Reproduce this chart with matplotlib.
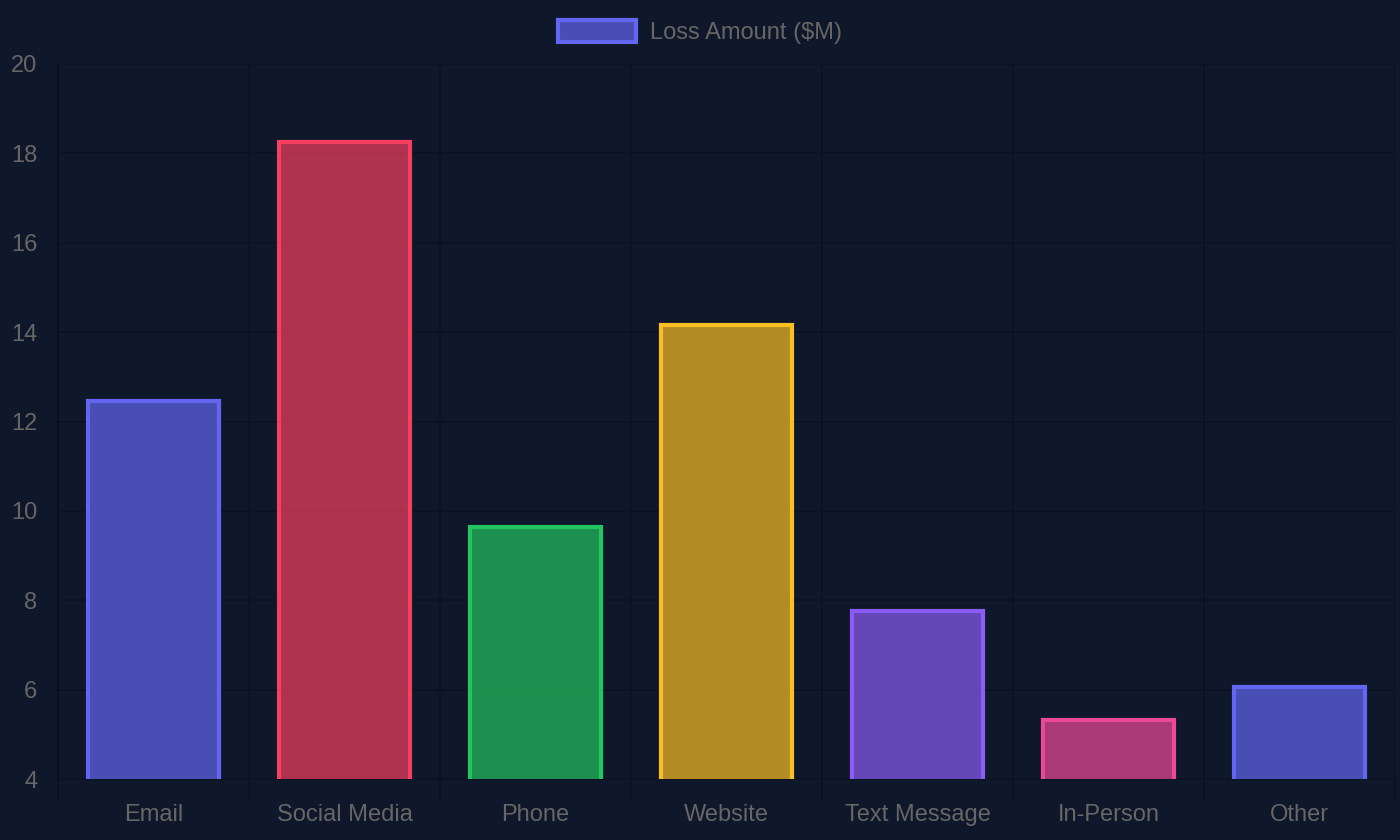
import matplotlib.pyplot as plt
from matplotlib.patches import Patch
from matplotlib.colors import to_rgba

categories = ["Email", "Social Media", "Phone", "Website", "Text Message", "In-Person", "Other"]
losses = [12.45, 18.25, 9.65, 14.15, 7.75, 5.33, 6.05]
border_colors = ["#6366f1", "#f43f5e", "#22c55e", "#fbbf24", "#8b5cf6", "#ec4899", "#6366f1"]
y_ticks = [4, 6, 8, 10, 12, 14, 16, 18, 20]

bg = "#0f172a"
grid_col = "#0b1322"
text_col = "#666666"

plt.rcParams["font.family"] = ["Liberation Sans", "DejaVu Sans"]

fig = plt.figure(figsize=(14, 8.4), dpi=100, facecolor=bg)
ax = fig.add_axes([58 / 1400, 61 / 840, 1337 / 1400, 715 / 840], facecolor=bg)

fills = [to_rgba(c, 0.7) for c in border_colors]
x = list(range(len(categories)))
ax.bar(x, losses, width=0.69, color=fills, edgecolor=border_colors, linewidth=3, zorder=3)

ax.set_xlim(-0.5, len(categories) - 0.5)
ax.set_ylim(4, 20)
ax.set_yticks(y_ticks)
ax.set_xticks(x)
ax.set_xticklabels(categories)
ax.set_xticks([i - 0.5 for i in range(len(categories) + 1)], minor=True)

ax.grid(True, which="major", axis="y", color=grid_col, linewidth=1.2, zorder=0)
ax.grid(True, which="minor", axis="x", color=grid_col, linewidth=1.2, zorder=0)

ax.tick_params(axis="x", which="major", length=0, pad=18, labelsize=17, labelcolor=text_col)
ax.tick_params(axis="x", which="minor", length=15, width=1.2, color=grid_col)
ax.tick_params(axis="y", length=0, pad=15, labelsize=17, labelcolor=text_col)

for side in ["top", "right"]:
    ax.spines[side].set_visible(False)
ax.spines["left"].set_color("#0a0f1c")
ax.spines["left"].set_linewidth(1.5)
ax.spines["bottom"].set_color(grid_col)
ax.spines["bottom"].set_linewidth(1.2)

handle = Patch(facecolor=fills[0], edgecolor=border_colors[0], linewidth=3)
fig.legend([handle], ["Loss Amount ($M)"], loc="center", bbox_to_anchor=(0.5, 1 - 32 / 840),
           frameon=False, fontsize=17, labelcolor=text_col, handlelength=3.3,
           handleheight=1.1, handletextpad=0.6)

fig.savefig("out.png", dpi=100, facecolor=bg)
